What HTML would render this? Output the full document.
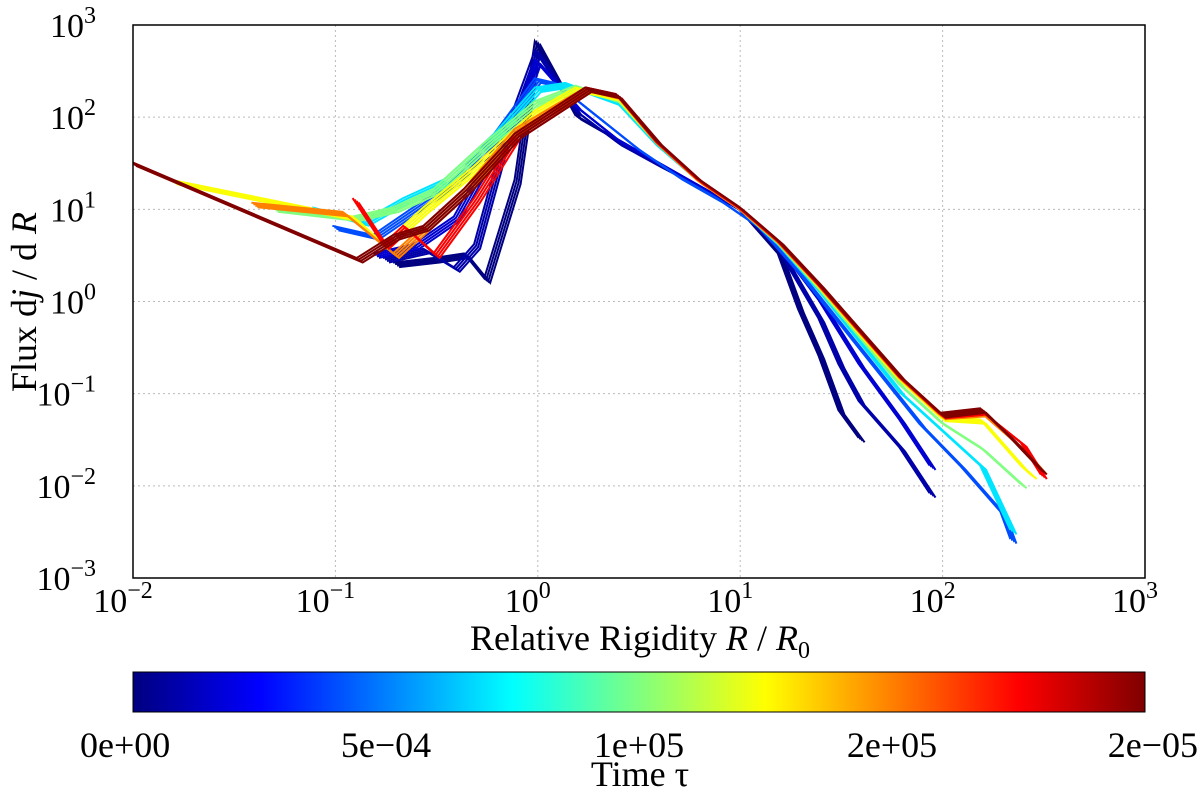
<!DOCTYPE html>
<html><head><meta charset="utf-8"><style>
body{margin:0;background:#fff;}
svg text{font-family:"Liberation Serif",serif;fill:#000;}
</style></head><body>
<svg id="chart" width="1200" height="794" xmlns="http://www.w3.org/2000/svg">
<defs>
<linearGradient id="jet" x1="0" x2="1" y1="0" y2="0">
<stop offset="0" stop-color="#00007f"/><stop offset="0.125" stop-color="#0000ff"/>
<stop offset="0.375" stop-color="#00ffff"/><stop offset="0.625" stop-color="#ffff00"/>
<stop offset="0.875" stop-color="#ff0000"/><stop offset="1" stop-color="#7f0000"/>
</linearGradient>
<clipPath id="pc"><rect x="133" y="25" width="1012" height="553"/></clipPath>
</defs>
<g id="grid"></g>
<g id="curves" clip-path="url(#pc)"></g>
<rect x="133" y="25" width="1012" height="553" fill="none" stroke="#000" stroke-width="1.5"/>
<g id="ticks"></g>
<text x="640" y="650" font-size="36" text-anchor="middle">Relative Rigidity <tspan font-style="italic">R</tspan> / <tspan font-style="italic">R</tspan><tspan font-size="24" dy="8">0</tspan></text>
<text transform="translate(36,302) rotate(-90)" font-size="36" text-anchor="middle">Flux d<tspan font-style="italic">j</tspan> / d <tspan font-style="italic">R</tspan></text>
<rect x="133" y="672" width="1012" height="40" fill="url(#jet)" stroke="#000" stroke-width="1"/>
<g id="cbticks"></g>
<text x="640" y="786" font-size="36" text-anchor="middle">Time τ</text>
</svg>
<script>
const xTickExp=[-2,-1,0,1,2,3];
const yTickExp=[-3,-2,-1,0,1,2,3];
const cbLabels=["0e+00","5e\u221204","1e+05","2e+05","2e\u221205"];
const curveTimes=[0,0.04,0.08,0.2,0.35,0.5,0.62,0.75,0.88,1];
const curveX=[
[-0.7,-0.5,-0.35,-0.25,-0.1,0,0.2,0.4,0.6,0.8,1,1.2,1.3,1.4,1.5,1.6],
[-0.75,-0.55,-0.4,-0.3,-0.15,0,0.2,0.4,0.6,0.8,1,1.2,1.4,1.5,1.6,1.8,1.95],
[-0.8,-0.6,-0.4,-0.3,-0.1,0,0.2,0.4,0.6,0.8,1,1.2,1.4,1.6,1.8,1.95],
[-1.0,-0.8,-0.6,-0.4,-0.2,0,0.1,0.3,0.5,0.7,0.9,1.1,1.3,1.5,1.7,1.9,2.1,2.3,2.35],
[-1.1,-0.85,-0.65,-0.45,-0.2,0,0.15,0.4,0.6,0.8,1,1.2,1.4,1.6,1.8,2,2.2,2.35],
[-1.3,-0.9,-0.7,-0.5,-0.25,0,0.2,0.4,0.6,0.8,1,1.2,1.4,1.6,1.8,2,2.2,2.4],
[-1.8,-0.9,-0.75,-0.55,-0.3,0,0.2,0.4,0.6,0.8,1,1.2,1.4,1.6,1.8,2,2.2,2.4,2.45],
[-1.4,-0.95,-0.7,-0.6,-0.35,-0.1,0.25,0.4,0.6,0.8,1,1.2,1.4,1.6,1.8,2,2.2,2.4,2.5],
[-0.9,-0.75,-0.65,-0.5,-0.3,-0.1,0.25,0.4,0.6,0.8,1,1.2,1.4,1.6,1.8,2,2.2,2.4,2.5],
[-2,-0.88,-0.7,-0.55,-0.35,-0.1,0.25,0.4,0.6,0.8,1,1.2,1.4,1.6,1.8,2,2.2,2.35,2.5]];
const curveY=[
[0.4,0.45,0.5,0.23,1.3,2.8,2.0,1.75,1.5,1.25,1.0,0.5,-0.1,-0.6,-1.2,-1.5],
[0.45,0.55,0.35,0.6,1.8,2.7,2.05,1.72,1.48,1.25,1.0,0.55,-0.2,-0.7,-1.1,-1.6,-2.1],
[0.5,0.6,0.9,1.3,2.0,2.6,2.1,1.75,1.5,1.25,1.0,0.58,0.0,-0.7,-1.3,-1.8],
[0.8,0.7,1.0,1.3,1.8,2.4,2.35,2.0,1.65,1.35,1.1,0.8,0.3,-0.25,-0.8,-1.35,-1.8,-2.3,-2.6],
[1.0,0.85,1.1,1.3,1.8,2.3,2.35,2.15,1.68,1.3,1.0,0.6,0.1,-0.45,-1.0,-1.4,-1.8,-2.5],
[1.0,0.9,1.0,1.2,1.7,2.15,2.32,2.18,1.7,1.3,1.0,0.61,0.12,-0.4,-0.92,-1.32,-1.6,-2.0],
[1.3,0.9,0.6,1.0,1.45,2.05,2.3,2.2,1.7,1.3,1.0,0.62,0.14,-0.37,-0.87,-1.27,-1.3,-1.8,-1.9],
[1.05,0.95,0.5,0.7,1.2,1.85,2.3,2.22,1.7,1.3,1.0,0.62,0.15,-0.35,-0.85,-1.25,-1.22,-1.6,-1.85],
[1.1,0.6,0.8,0.5,1.1,1.8,2.3,2.23,1.71,1.31,1.01,0.63,0.16,-0.34,-0.84,-1.24,-1.2,-1.55,-1.9],
[1.5,0.45,0.7,0.8,1.2,1.8,2.3,2.23,1.72,1.32,1.02,0.64,0.17,-0.33,-0.83,-1.23,-1.18,-1.5,-1.85]];
const NS="http://www.w3.org/2000/svg";
const X0=133,X1=1145,Y0=578,Y1=25;
const sx=e=>X0+(e+2)/5*(X1-X0);
const sy=e=>Y0-(e+3)/6*(Y0-Y1);
function jet(t){const c=v=>Math.round(255*Math.max(0,Math.min(1,v)));
 return `rgb(${c(1.5-Math.abs(4*t-3))},${c(1.5-Math.abs(4*t-2))},${c(1.5-Math.abs(4*t-1))})`;}
function mk(tag,attrs,parent){const e=document.createElementNS(NS,tag);for(const k in attrs)e.setAttribute(k,attrs[k]);parent.appendChild(e);return e;}
const grid=document.getElementById('grid'),ticks=document.getElementById('ticks'),curves=document.getElementById('curves'),cbt=document.getElementById('cbticks');
xTickExp.forEach(e=>{const x=sx(e);
 if(e>-2&&e<3){const l=mk('line',{x1:x,x2:x,y1:Y1,y2:Y0,stroke:'#bbb','stroke-dasharray':'2,3'},grid);
 }
 const t=mk('text',{x:x-10,y:612,'font-size':34,'text-anchor':'middle'},ticks);
 
 t.innerHTML=`10<tspan font-size="24" dy="-14">${e<0?'\u2212'+(-e):e}</tspan>`;});
yTickExp.forEach(e=>{const y=sy(e);
 if(e>-3&&e<3){const l=mk('line',{x1:X0,x2:X1,y1:y,y2:y,stroke:'#bbb','stroke-dasharray':'2,3'},grid);
 }
 const t=mk('text',{x:96,y:y+12,'font-size':34,'text-anchor':'end'},ticks);
 
 t.innerHTML=`10<tspan font-size="24" dy="-14">${e<0?'\u2212'+(-e):e}</tspan>`;});
curveTimes.forEach((tm,i)=>{const d=curveX[i].map((xv,j)=>(j?'L':'M')+sx(xv).toFixed(1)+','+sy(curveY[i][j]).toFixed(1)).join('');
 for(let k=0;k<4;k++){const p=mk('path',{d:d,fill:'none',stroke:jet(tm),'stroke-width':2,transform:`translate(${k*2-3},${k*1.5-2})`},curves);
 }});
cbLabels.forEach((s,i)=>{const t=mk('text',{x:X0+i*(X1-X0)/4,y:757,'font-size':36,'text-anchor':i==0?'start':i==4?'end':'middle'},cbt);
 
 t.textContent=s;
 if(i==0)t.setAttribute('x',80);if(i==4)t.setAttribute('x',1198);});
</script>
</body></html>
